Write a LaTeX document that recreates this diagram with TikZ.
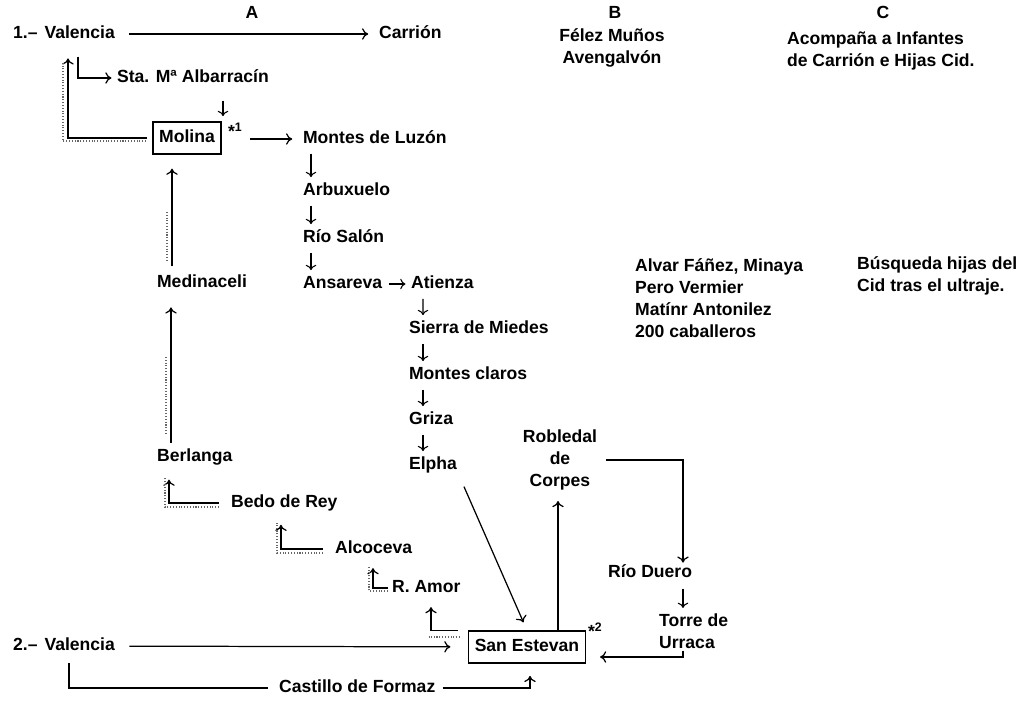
\documentclass[tikz,border=0pt]{standalone}
\usepackage{fontspec}
\setmainfont{Liberation Sans}
\usetikzlibrary{arrows.meta}

\tikzstyle{place} = [inner sep=1pt, text height=7.3pt, text depth=2.1pt]
\tikzstyle{lines} = [inner sep=1pt]
\tikzstyle{box} = [rectangle, draw=black, line width=0.7pt, inner xsep=3.5pt, minimum height=0.64cm, text height=7.3pt, text depth=2.1pt]
\tikzstyle{arrow} = [line width=0.7pt,->,>={To[length=3.5pt,width=6.5pt]}]
\tikzstyle{link} = [line width=0.7pt]
\tikzstyle{tick} = [line width=0.6pt,->,>={To[length=3pt,width=6pt]}, shorten <=2.5pt, shorten >=2pt]
\tikzstyle{back} = [line width=0.6pt, densely dotted, black!60]

\begin{document}
\begin{tikzpicture}[x=0.02cm, y=-0.02cm, font=\fontsize{10}{12.5}\selectfont\bfseries]
  \path [fill=white] (0,0) rectangle (1025,707);

  % column headings
  \node (A) [place] at (252,14) {A};
  \node (B) [place] at (615,14) {B};
  \node (C) [place] at (883,14) {C};
  \node (Bnames) [lines, align=center] at (612,48) {Félez Muños\\Avengalvón};
  \node (Ctask) [lines, align=left, anchor=west] at (785,51) {Acompaña a Infantes\\de Carrión e Hijas Cid.};
  \node (Alvar) [lines, align=left, anchor=west] at (633,298) {Alvar Fáñez, Minaya\\Pero Vermier\\Matínr Antonilez\\200 caballeros};
  \node (Busqueda) [lines, align=left, anchor=west] at (855,276) {Búsqueda hijas del\\Cid tras el ultraje.};

  % route 1
  \node (Valencia1) [place, anchor=west] at (11,34) {1.–\hspace{0.12em} Valencia};
  \node (Carrion) [place, anchor=west] at (377,34) {Carrión};
  \node (Albarracin) [place, anchor=west] at (115,78) {Sta. Mª Albarracín};
  \node (Molina) [box] at (187,138) {Molina};
  \node (star1) [place, anchor=west] at (226,133) {*\textsuperscript{1}};
  \node (Luzon) [place, anchor=west] at (301,139) {Montes de Luzón};
  \node (Arbuxuelo) [place, anchor=west] at (301,191) {Arbuxuelo};
  \node (Salon) [place, anchor=west] at (301,238) {Río Salón};
  \node (Ansareva) [place, anchor=west] at (301,284) {Ansareva};
  \node (Atienza) [place, anchor=west] at (409,284) {Atienza};
  \node (Miedes) [place, anchor=west] at (407,329) {Sierra de Miedes};
  \node (Claros) [place, anchor=west] at (407,375) {Montes claros};
  \node (Griza) [place, anchor=west] at (407,420) {Griza};
  \node (Elpha) [place, anchor=west] at (407,465) {Elpha};

  \node (Medinaceli) [place, anchor=west] at (155,283) {Medinaceli};
  \node (Berlanga) [place, anchor=west] at (155,457) {Berlanga};
  \node (Bedo) [place, anchor=west] at (229,503) {Bedo de Rey};
  \node (Alcoceva) [place, anchor=west] at (333,549) {Alcoceva};
  \node (Amor) [place, anchor=west] at (390,588) {R. Amor};

  % route 2
  \node (Valencia2) [place, anchor=west] at (11,646) {2.–\hspace{0.12em} Valencia};
  \node (Estevan) [box] at (527,647) {San Estevan};
  \node (star2) [place, anchor=west] at (586,633) {*\textsuperscript{2}};
  \node (Formaz) [place, anchor=west] at (277,688) {Castillo de Formaz};
  \node (Robledal) [lines, align=center] at (560,460) {Robledal\\de\\Corpes};
  \node (Duero) [place, anchor=west] at (606,573) {Río Duero};
  \node (Torre) [lines, align=left, anchor=west] at (657,631) {Torre de\\Urraca};

  % outward, route 1
  \draw [arrow, shorten <=7pt, shorten >=5pt] (Valencia1) -- (Carrion);
  \draw [arrow, shorten <=7pt, shorten >=2pt] (Valencia1.south -| 78,0) |- (Albarracin);
  \draw [tick, shorten <=7pt, shorten >=3pt] (Albarracin.south -| 223,0) -- (Molina.north -| 223,0);
  \draw [arrow, shorten <=3pt, shorten >=5pt] (star1.east |- Luzon.west) -- (Luzon.west);
  \draw [tick] ([xshift=0.2cm]Luzon.south west) -- ([xshift=0.2cm]Arbuxuelo.north west);
  \draw [tick] ([xshift=0.2cm]Arbuxuelo.south west) -- ([xshift=0.2cm]Salon.north west);
  \draw [tick] ([xshift=0.2cm]Salon.south west) -- ([xshift=0.2cm]Ansareva.north west);
  \draw [tick] (Ansareva) -- (Atienza);
  \draw [tick] ([xshift=0.28cm]Atienza.south west) -- ([xshift=0.32cm]Miedes.north west);
  \draw [tick] ([xshift=0.32cm]Miedes.south west) -- ([xshift=0.32cm]Claros.north west);
  \draw [tick] ([xshift=0.32cm]Claros.south west) -- ([xshift=0.32cm]Griza.north west);
  \draw [tick] ([xshift=0.32cm]Griza.south west) -- ([xshift=0.32cm]Elpha.north west);
  \draw [arrow, shorten <=7pt, shorten >=5pt] (Elpha.south east) -- (Estevan.north);

  % way back, route 1
  \draw [arrow, shorten <=3pt, shorten >=8pt] (Molina.west) -| (Valencia1.south -| 68,0);
  \draw [back] (146,141) -| (63,62);
  \draw [arrow, shorten <=3.6pt, shorten >=8pt] (Medinaceli.north -| 172,0) -- (Molina.south -| 172,0);
  \draw [back] (167,212) -- (167,262);
  \draw [arrow, shorten <=2.3pt, shorten >=8pt] (Berlanga.north -| 171,0) -- (Medinaceli.south -| 171,0);
  \draw [back] (166,357) -- (166,434);
  \draw [arrow, shorten <=5.7pt, shorten >=7pt] (Bedo.west) -| (Berlanga.south -| 169,0);
  \draw [back] (219,507) -| (165,478);
  \draw [arrow, shorten <=5.7pt, shorten >=6.5pt] (Alcoceva.west) -| (Bedo.south -| 281,0);
  \draw [back] (323,553) -| (277,523);
  \draw [arrow, shorten <=1pt, shorten >=5pt] (Amor.west) -| (Alcoceva.south -| 373,0);
  \draw [back] (388,591) -| (369,566);
  \draw [arrow, shorten <=5.7pt, shorten >=5pt] (Estevan.north west) -| (Amor.south -| 431,0);
  \draw [back] (460,637) -- (429,637);

  % route 2
  \draw [arrow, shorten <=7pt, shorten >=10pt] (Valencia2) -- (Estevan);
  \draw [link, shorten <=4pt, shorten >=5pt] (Valencia2.south -| 69,0) |- (Formaz);
  \draw [arrow, shorten <=3pt, shorten >=7pt] (Formaz.east) -| (Estevan.south -| 530,0);
  \draw [arrow, shorten >=5pt] (Estevan.north -| 558,0) -- (Robledal.south -| 558,0);
  \draw [arrow, shorten <=4pt] (Robledal.east) -| (Duero.north -| 683,0);
  \draw [tick, shorten <=3pt] (Duero.south -| 683,0) -- (Torre.north -| 683,0);
  \draw [arrow, shorten >=8pt] (Torre.south -| 683,0) |- ([yshift=-0.2cm]Estevan.east);
\end{tikzpicture}
\end{document}
